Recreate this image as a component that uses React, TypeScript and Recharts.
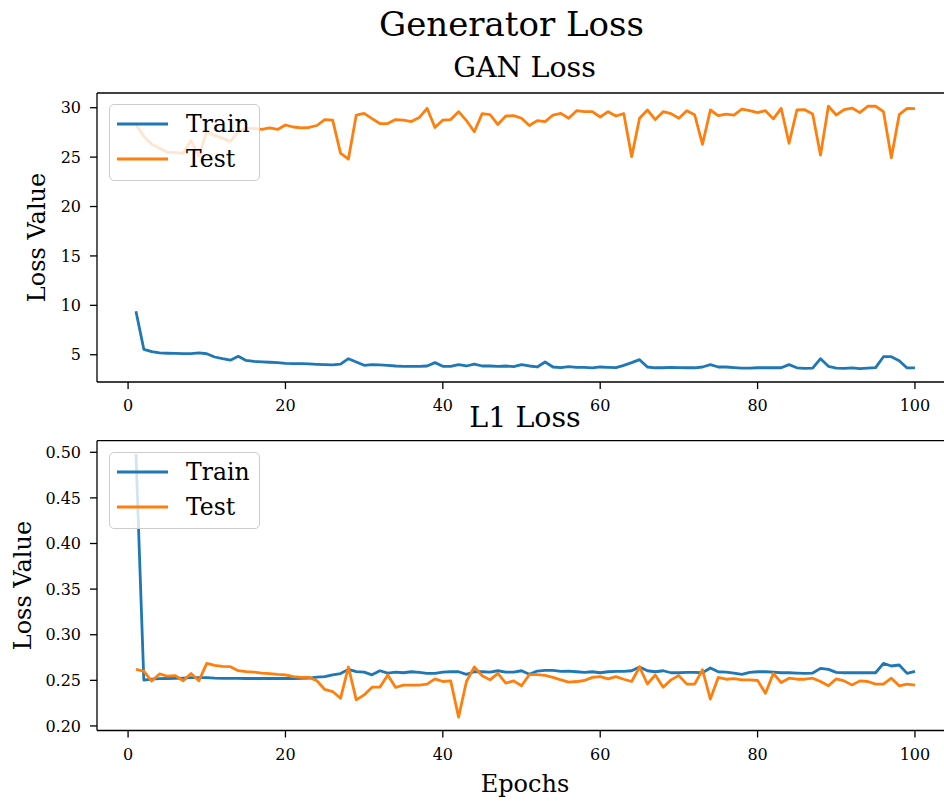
import React from 'react';
import { LineChart, Line, XAxis, YAxis, Legend, ReferenceLine } from 'recharts';

const FONT = "'DejaVu Serif', serif";
const TRAIN_COLOR = '#1f77b4';
const TEST_COLOR = '#ff7f0e';

const epochs = [
  1, 2, 3, 4, 5, 6, 7, 8, 9, 10, 11, 12, 13, 14, 15, 16, 17, 18, 19, 20,
  21, 22, 23, 24, 25, 26, 27, 28, 29, 30, 31, 32, 33, 34, 35, 36, 37, 38, 39, 40,
  41, 42, 43, 44, 45, 46, 47, 48, 49, 50, 51, 52, 53, 54, 55, 56, 57, 58, 59, 60,
  61, 62, 63, 64, 65, 66, 67, 68, 69, 70, 71, 72, 73, 74, 75, 76, 77, 78, 79, 80,
  81, 82, 83, 84, 85, 86, 87, 88, 89, 90, 91, 92, 93, 94, 95, 96, 97, 98, 99, 100,
];

const ganTrain = [
  9.4, 5.55, 5.32, 5.18, 5.15, 5.13, 5.12, 5.12, 5.18, 5.1,
  4.77, 4.6, 4.45, 4.84, 4.42, 4.32, 4.28, 4.24, 4.2, 4.13,
  4.1, 4.1, 4.07, 4.03, 4.0, 3.97, 4.05, 4.6, 4.27, 3.93,
  4.0, 3.97, 3.93, 3.86, 3.83, 3.83, 3.83, 3.86, 4.2, 3.83,
  3.83, 4.0, 3.86, 4.06, 3.86, 3.86, 3.83, 3.86, 3.8, 4.0,
  3.86, 3.76, 4.26, 3.76, 3.7, 3.8, 3.73, 3.73, 3.66, 3.76,
  3.73, 3.7, 3.93, 4.2, 4.5, 3.76, 3.68, 3.68, 3.73, 3.7,
  3.68, 3.68, 3.76, 4.0, 3.76, 3.76, 3.7, 3.65, 3.65, 3.68,
  3.68, 3.68, 3.68, 4.0, 3.68, 3.62, 3.65, 4.6, 3.83, 3.65,
  3.62, 3.68, 3.6, 3.65, 3.7, 4.8, 4.8, 4.4, 3.66, 3.66,
];

const ganTest = [
  28.3, 27.1, 26.3, 25.9, 25.5, 25.45, 25.4, 26.7, 25.1, 27.6,
  27.2, 26.9, 26.6, 27.6, 27.9, 27.9, 27.8, 27.95, 27.8, 28.25,
  28.05, 27.95, 28.0, 28.2, 28.8, 28.75, 25.4, 24.8, 29.26, 29.43,
  28.9, 28.4, 28.4, 28.8, 28.75, 28.6, 29.0, 29.94, 28.0, 28.75,
  28.8, 29.6, 28.7, 27.57, 29.4, 29.3, 28.3, 29.16, 29.2, 28.93,
  28.2, 28.7, 28.6, 29.26, 29.43, 28.93, 29.7, 29.6, 29.6, 29.06,
  29.6, 29.16, 29.4, 25.04, 28.93, 29.77, 28.8, 29.6, 29.4, 28.93,
  29.7, 29.3, 26.3, 29.77, 29.2, 29.36, 29.26, 29.87, 29.7, 29.5,
  29.7, 28.87, 29.94, 26.4, 29.77, 29.8, 29.36, 25.2, 30.16, 29.26,
  29.8, 29.97, 29.5, 30.15, 30.15, 29.6, 24.94, 29.3, 29.94, 29.9,
];

const l1Train = [
  0.498, 0.2503, 0.2514, 0.2518, 0.252, 0.2522, 0.2525, 0.2529, 0.2529, 0.253,
  0.2525, 0.2522, 0.2522, 0.2522, 0.252, 0.252, 0.252, 0.252, 0.252, 0.252,
  0.252, 0.2522, 0.2525, 0.2535, 0.254, 0.256, 0.2574, 0.262, 0.2596, 0.259,
  0.256, 0.2605, 0.258, 0.259, 0.2583, 0.2594, 0.2587, 0.2576, 0.2576, 0.259,
  0.2594, 0.2594, 0.2566, 0.2594, 0.2594, 0.259, 0.2605, 0.259, 0.259, 0.2605,
  0.2566, 0.2602, 0.261, 0.261, 0.2598, 0.2602, 0.2594, 0.2587, 0.2594, 0.2583,
  0.2594, 0.2598, 0.2598, 0.2605, 0.2646, 0.2605, 0.2594, 0.2605, 0.2583, 0.2583,
  0.2587, 0.2587, 0.2583, 0.2635, 0.2594, 0.259, 0.258, 0.2566, 0.2587, 0.2594,
  0.2594, 0.259, 0.2583, 0.2583, 0.258, 0.2576, 0.258, 0.2631, 0.262, 0.2587,
  0.2583, 0.2583, 0.2583, 0.2583, 0.2583, 0.2686, 0.2657, 0.2668, 0.2576, 0.2598,
];

const l1Test = [
  0.262, 0.2602, 0.2492, 0.257, 0.2545, 0.2552, 0.2495, 0.2576, 0.2495, 0.2686,
  0.2664, 0.2653, 0.265, 0.2606, 0.2595, 0.259, 0.258, 0.2574, 0.2566, 0.256,
  0.254, 0.2532, 0.2532, 0.2495, 0.24, 0.2377, 0.2303, 0.2646, 0.2285, 0.234,
  0.2425, 0.2425, 0.2558, 0.2422, 0.2447, 0.2447, 0.2447, 0.2458, 0.2516, 0.2487,
  0.2494, 0.2097, 0.2487, 0.2646, 0.255, 0.2505, 0.2576, 0.247, 0.2494, 0.244,
  0.2562, 0.2562, 0.2554, 0.2532, 0.2505, 0.248, 0.2487, 0.2498, 0.2532, 0.254,
  0.2516, 0.254, 0.2512, 0.2487, 0.2646, 0.246, 0.2558, 0.2425, 0.2505, 0.2552,
  0.2458, 0.2458, 0.2616, 0.2295, 0.2532, 0.2512, 0.2518, 0.2505, 0.2505, 0.2498,
  0.2359, 0.2576, 0.2476, 0.2523, 0.2512, 0.2512, 0.2523, 0.2487, 0.244, 0.2516,
  0.2494, 0.245, 0.2494, 0.2487, 0.2458, 0.2458, 0.2523, 0.244, 0.2458, 0.2447,
];

const xTicks = [0, 20, 40, 60, 80, 100];
const ganTicks = [5, 10, 15, 20, 25, 30];
const l1Ticks = [0.2, 0.25, 0.3, 0.35, 0.4, 0.45, 0.5];

const ganData = epochs.map((epoch, i) => ({ epoch, train: ganTrain[i], test: ganTest[i] }));
const l1Data = epochs.map((epoch, i) => ({ epoch, train: l1Train[i], test: l1Test[i] }));

const series = [
  { key: 'train', name: 'Train', color: TRAIN_COLOR },
  { key: 'test', name: 'Test', color: TEST_COLOR },
];

const tickStyle = { fill: '#000', fontSize: 16, fontFamily: FONT };
const axisStroke = { stroke: '#000', strokeWidth: 1.3 };

function LegendBox() {
  return (
    <div
      style={{
        width: 151,
        height: 77,
        boxSizing: 'border-box',
        border: '1.3px solid #cccccc',
        borderRadius: 5,
        background: 'rgba(255,255,255,0.8)',
      }}
    >
      <svg width={149} height={75} style={{ display: 'block' }}>
        {series.map((s, i) => (
          <g key={s.key}>
            <line x1={7} x2={58} y1={19 + i * 35} y2={19 + i * 35} stroke={s.color} strokeWidth={2.8} />
            <text x={76} y={27 + i * 35} fontSize={23.5} fontFamily={FONT} fill="#000">
              {s.name}
            </text>
          </g>
        ))}
      </svg>
    </div>
  );
}

function Panel({ data, domain, ticks, fmt, top, height, margin, legendTop }: any) {
  return (
    <div style={{ position: 'absolute', left: 0, top }}>
      <LineChart width={960} height={height} data={data} margin={margin}>
        <XAxis
          dataKey="epoch"
          type="number"
          domain={[-3.95, 104.95]}
          allowDataOverflow
          ticks={xTicks}
          interval={0}
          height={40}
          tickSize={7}
          tickMargin={11}
          tick={tickStyle}
          axisLine={axisStroke}
          tickLine={axisStroke}
        />
        <YAxis
          type="number"
          domain={domain}
          allowDataOverflow
          ticks={ticks}
          interval={0}
          width={97}
          tickSize={7}
          tickMargin={9}
          tickFormatter={fmt}
          tick={tickStyle}
          axisLine={axisStroke}
          tickLine={axisStroke}
        />
        <ReferenceLine y={domain[1]} stroke="#000" strokeWidth={1.3} ifOverflow="visible" />
        {series.map((s) => (
          <Line
            key={s.key}
            type="linear"
            dataKey={s.key}
            name={s.name}
            stroke={s.color}
            strokeWidth={2.8}
            strokeLinejoin="round"
            dot={false}
            isAnimationActive={false}
          />
        ))}
        <Legend
          layout="vertical"
          align="center"
          verticalAlign="middle"
          wrapperStyle={{ left: 109, top: legendTop, width: 151, height: 77 }}
          content={() => <LegendBox />}
        />
      </LineChart>
    </div>
  );
}

export default function App() {
  return (
    <div
      style={{
        position: 'absolute',
        left: 0,
        top: 0,
        width: 944,
        height: 801,
        overflow: 'hidden',
        background: '#fff',
      }}
    >
      <Panel
        data={ganData}
        domain={[2.24, 31.49]}
        ticks={ganTicks}
        fmt={(v: number) => String(v)}
        top={0}
        height={422}
        margin={{ top: 93, right: 6.1, left: 0, bottom: 0 }}
        legendTop={104}
      />
      <Panel
        data={l1Data}
        domain={[0.195, 0.5127]}
        ticks={l1Ticks}
        fmt={(v: number) => v.toFixed(2)}
        top={420}
        height={381}
        margin={{ top: 20.7, right: 6.1, left: 0, bottom: 30.5 }}
        legendTop={32.3}
      />
      <svg
        width={944}
        height={801}
        style={{ position: 'absolute', left: 0, top: 0, pointerEvents: 'none' }}
        fontFamily={FONT}
      >
        <text x={511.5} y={35.7} fontSize={34} textAnchor="middle" fill="#000">
          Generator Loss
        </text>
        <text x={524.5} y={77.3} fontSize={28.5} textAnchor="middle" fill="#000">
          GAN Loss
        </text>
        <text x={525} y={426.7} fontSize={28.5} textAnchor="middle" fill="#000">
          L1 Loss
        </text>
        <text x={45} y={237.5} fontSize={24} textAnchor="middle" fill="#000" transform="rotate(-90 45 237.5)">
          Loss Value
        </text>
        <text x={31} y={585.6} fontSize={24} textAnchor="middle" fill="#000" transform="rotate(-90 31 585.6)">
          Loss Value
        </text>
        <text x={525} y={791.7} fontSize={24} textAnchor="middle" fill="#000">
          Epochs
        </text>
      </svg>
    </div>
  );
}
